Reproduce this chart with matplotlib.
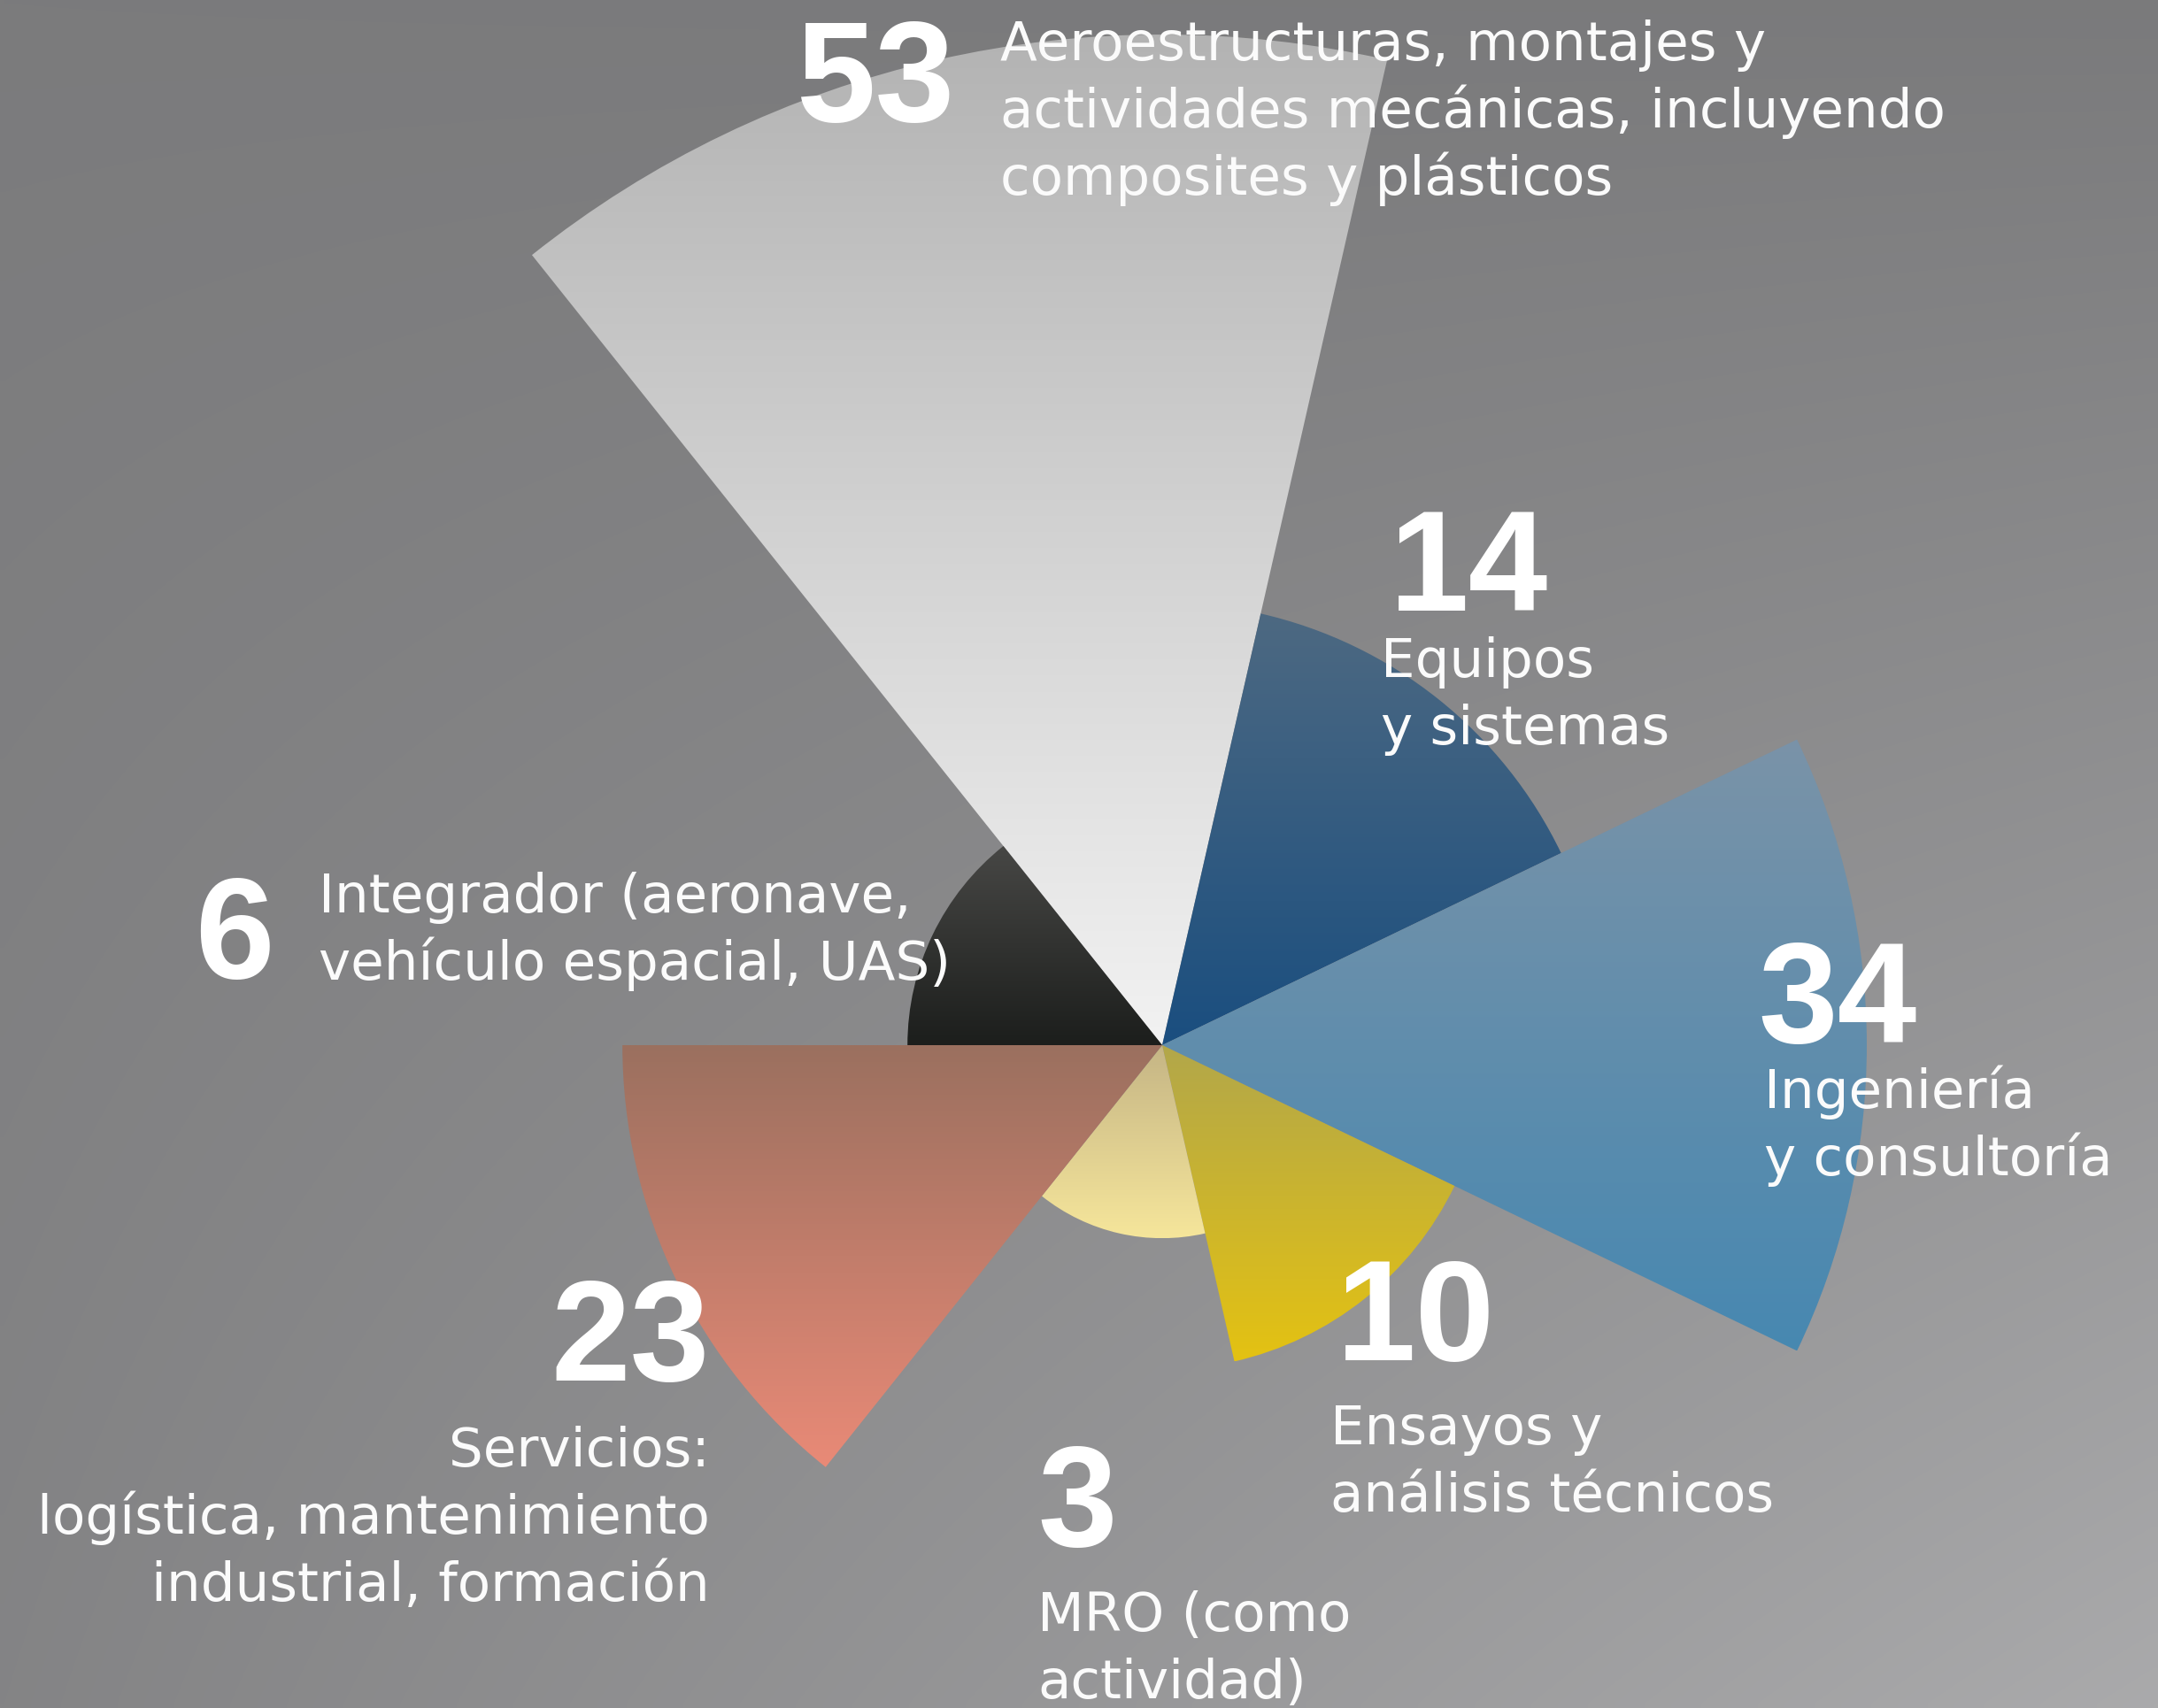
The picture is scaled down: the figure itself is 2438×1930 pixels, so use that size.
import numpy as np
import matplotlib.pyplot as plt
from matplotlib.patches import Wedge
from matplotlib.colors import to_rgb

# categories in clockwise order, starting with the top wedge
counts = [53, 14, 34, 10, 3, 23, 6]
labels = [
    ["Aeroestructuras, montajes y", "actividades mecánicas, incluyendo", "composites y plásticos"],
    ["Equipos", "y sistemas"],
    ["Ingeniería", "y consultoría"],
    ["Ensayos y", "análisis técnicos"],
    ["MRO (como", "actividad)"],
    ["Servicios:", "logística, mantenimiento", "industrial, formación"],
    ["Integrador (aeronave,", "vehículo espacial, UAS)"],
]
# wedge length as drawn, relative to the longest wedge (=100)
rel_length = [100, 43.8, 69.7, 32.1, 19.1, 53.4, 25.2]

# gradient colours (top, bottom) of every wedge
top_colors = ["#b3b3b3", "#4d6982", "#7a93a8", "#b2a74a", "#c5b585", "#9b705f", "#474745"]
bottom_colors = ["#f2f2f2", "#1a4e7f", "#4788b1", "#e4c212", "#f6e69b", "#e98a77", "#1c1e1c"]

W, H = 2438, 1931
CX, CY = 1313, 1182         # centre of the rose, pixels
R_MAX = 1142                # pixel length of the longest wedge

fig = plt.figure(figsize=(W / 100, H / 100), dpi=100)
ax = fig.add_axes([0, 0, 1, 1])
ax.set_axis_off()

# background: soft grey gradient, lighter towards the bottom right
yy, xx = np.mgrid[0:1:200j, 0:1:250j]
tl, tr, bl, br = 123, 122, 132, 170
bg = (tl * (1 - xx) * (1 - yy) + tr * xx * (1 - yy) + bl * (1 - xx) * yy + br * xx * yy) / 255
ax.imshow(np.dstack([bg, bg, bg + 0.006]).clip(0, 1), extent=(0, W, H, 0), origin="upper",
          aspect="auto", zorder=0, interpolation="bilinear")

n = len(counts)
step = 360 / n
for i in range(n):
    # screen angles (counter-clockwise, y up); top wedge spans 77.1..128.6 deg
    a_hi = 180 - step - i * step
    a_lo = a_hi - step
    r = R_MAX * rel_length[i] / 100
    # y axis is inverted, so angles flip sign
    w = Wedge((CX, CY), r, -a_hi, -a_lo, facecolor="none", edgecolor="none", zorder=2)
    ax.add_patch(w)
    ext = w.get_path().get_extents()
    c0 = np.array(to_rgb(top_colors[i]))
    c1 = np.array(to_rgb(bottom_colors[i]))
    t = np.linspace(0, 1, 256)[:, None, None]
    grad = np.repeat(c0 * (1 - t) + c1 * t, 2, axis=1)
    im = ax.imshow(grad, extent=(ext.x0, ext.x1, ext.y1, ext.y0), origin="upper",
                   aspect="auto", zorder=2, interpolation="bilinear")
    im.set_clip_path(w)

ax.set_xlim(0, W)
ax.set_ylim(H, 0)

# label layout: number (x, baseline, ha) and text block (x, first baseline, ha)
num_pos = [(900, 137, "left"), (1570, 690, "left"), (1986, 1178, "left"),
           (1510, 1537, "left"), (1172, 1747, "left"), (802, 1560, "right"),
           (220, 1105, "left")]
txt_pos = [(1130, 68, "left"), (1560, 765, "left"), (1993, 1252, "left"),
           (1503, 1632, "left"), (1172, 1843, "left"), (802, 1657, "right"),
           (360, 1031, "left")]
LINE = 76
NUM_FONT = dict(family="Liberation Sans", weight="bold", size=116, color="white")
TXT_FONT = dict(family="DejaVu Sans", size=44, color="#fbfbfb")

for i in range(n):
    x, y, ha = num_pos[i]
    ax.text(x, y, str(counts[i]), ha=ha, va="baseline", zorder=5, **NUM_FONT)
    x, y, ha = txt_pos[i]
    for k, line in enumerate(labels[i]):
        ax.text(x, y + k * LINE, line, ha=ha, va="baseline", zorder=5, **TXT_FONT)

fig.savefig("out.png", dpi=100)
